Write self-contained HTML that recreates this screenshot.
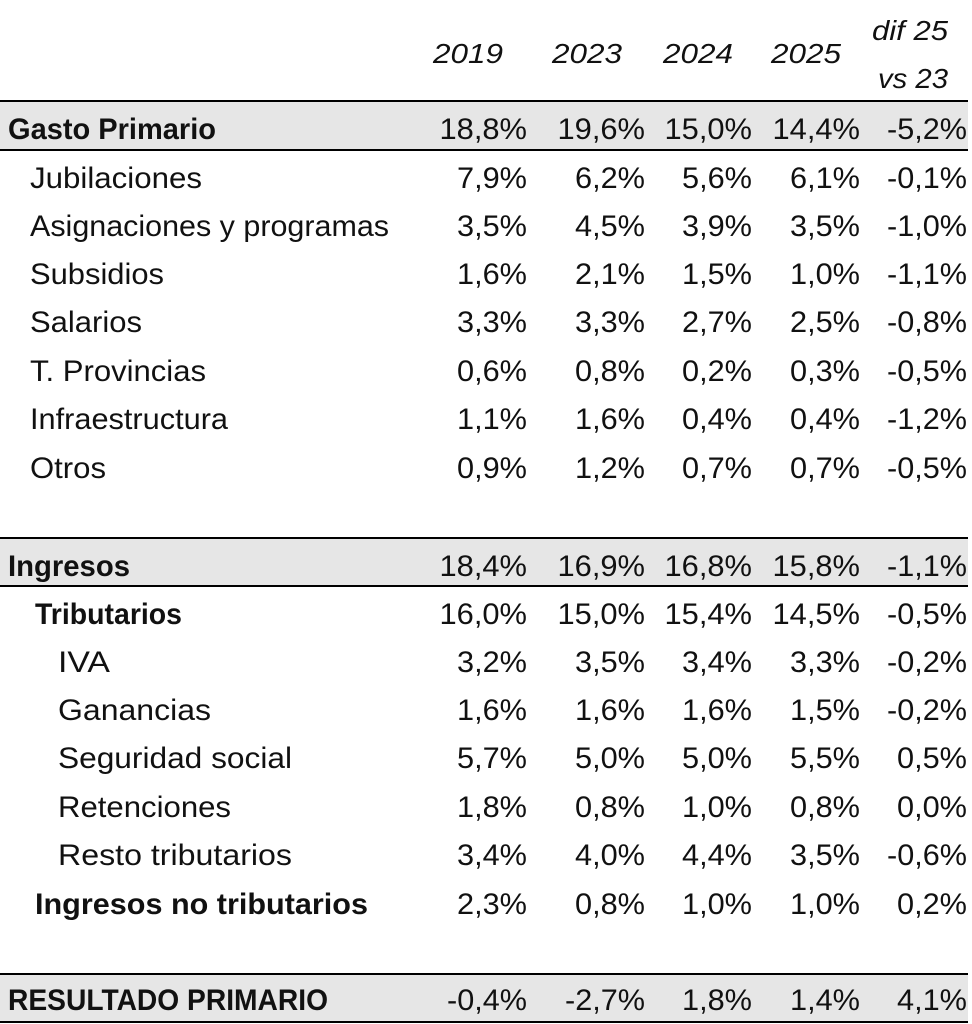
<!DOCTYPE html>
<html><head><meta charset="utf-8"><style>
html,body{margin:0;padding:0;background:#fff;}
svg{display:block;}
text{font-family:"Liberation Sans",sans-serif;font-size:30px;fill:#111;}
.b{font-weight:bold;}
.h{font-style:italic;font-size:28px;}
.n{text-anchor:end;}
</style></head><body>
<svg width="972" height="1024" viewBox="0 0 972 1024" xmlns="http://www.w3.org/2000/svg">
<rect x="0" y="101" width="968" height="49" fill="#e6e6e6"/>
<rect x="0" y="538" width="968" height="48" fill="#e6e6e6"/>
<rect x="0" y="974" width="968" height="48" fill="#e6e6e6"/>
<g stroke="#000" stroke-width="2">
<line x1="0" y1="101" x2="968" y2="101"/><line x1="0" y1="150" x2="968" y2="150"/>
<line x1="0" y1="538" x2="968" y2="538"/><line x1="0" y1="586" x2="968" y2="586"/>
<line x1="0" y1="974" x2="968" y2="974"/><line x1="0" y1="1022" x2="968" y2="1022"/>
</g>
<g class="h">
<text class="h n" x="503" y="63" textLength="70" lengthAdjust="spacingAndGlyphs">2019</text>
<text class="h n" x="622" y="63" textLength="70" lengthAdjust="spacingAndGlyphs">2023</text>
<text class="h n" x="733" y="63" textLength="70" lengthAdjust="spacingAndGlyphs">2024</text>
<text class="h n" x="841" y="63" textLength="70" lengthAdjust="spacingAndGlyphs">2025</text>
<text class="h n" x="948" y="40" textLength="76" lengthAdjust="spacingAndGlyphs">dif 25</text>
<text class="h n" x="948" y="88" textLength="70" lengthAdjust="spacingAndGlyphs">vs 23</text>
</g>
<g id="rows"></g>
</svg>
<script>
var rows=[
[139,8,"Gasto Primario",1,208,["18,8%","19,6%","15,0%","14,4%","-5,2%"]],
[188,30,"Jubilaciones",0,172,["7,9%","6,2%","5,6%","6,1%","-0,1%"]],
[236,30,"Asignaciones y programas",0,359,["3,5%","4,5%","3,9%","3,5%","-1,0%"]],
[284,30,"Subsidios",0,134,["1,6%","2,1%","1,5%","1,0%","-1,1%"]],
[332,30,"Salarios",0,112,["3,3%","3,3%","2,7%","2,5%","-0,8%"]],
[381,30,"T. Provincias",0,176,["0,6%","0,8%","0,2%","0,3%","-0,5%"]],
[429,30,"Infraestructura",0,198,["1,1%","1,6%","0,4%","0,4%","-1,2%"]],
[478,30,"Otros",0,76,["0,9%","1,2%","0,7%","0,7%","-0,5%"]],
[576,8,"Ingresos",1,122,["18,4%","16,9%","16,8%","15,8%","-1,1%"]],
[624,35,"Tributarios",1,147,["16,0%","15,0%","15,4%","14,5%","-0,5%"]],
[672,58,"IVA",0,52,["3,2%","3,5%","3,4%","3,3%","-0,2%"]],
[720,58,"Ganancias",0,153,["1,6%","1,6%","1,6%","1,5%","-0,2%"]],
[768,58,"Seguridad social",0,234,["5,7%","5,0%","5,0%","5,5%","0,5%"]],
[817,58,"Retenciones",0,173,["1,8%","0,8%","1,0%","0,8%","0,0%"]],
[865,58,"Resto tributarios",0,234,["3,4%","4,0%","4,4%","3,5%","-0,6%"]],
[914,35,"Ingresos no tributarios",1,333,["2,3%","0,8%","1,0%","1,0%","0,2%"]],
[1010,8,"RESULTADO PRIMARIO",1,320,["-0,4%","-2,7%","1,8%","1,4%","4,1%"]]
];
function w(v){var s=0;for(var i=0;i<v.length;i++){var c=v[i];s+=c=="%"?27:c==","?8:c=="-"?10:17.5;}return s;}
var xs=[527,645,752,860,967],g=document.getElementById("rows"),h="";
rows.forEach(function(r){
h+='<text x="'+r[1]+'" y="'+r[0]+'"'+(r[3]?' class="b"':'')+' textLength="'+r[4]+'" lengthAdjust="spacingAndGlyphs">'+r[2]+'</text>';
r[5].forEach(function(v,i){h+='<text class="n" x="'+xs[i]+'" y="'+r[0]+'" textLength="'+w(v)+'" lengthAdjust="spacingAndGlyphs">'+v+'</text>';});
});
g.innerHTML=h;
</script>
</body></html>
